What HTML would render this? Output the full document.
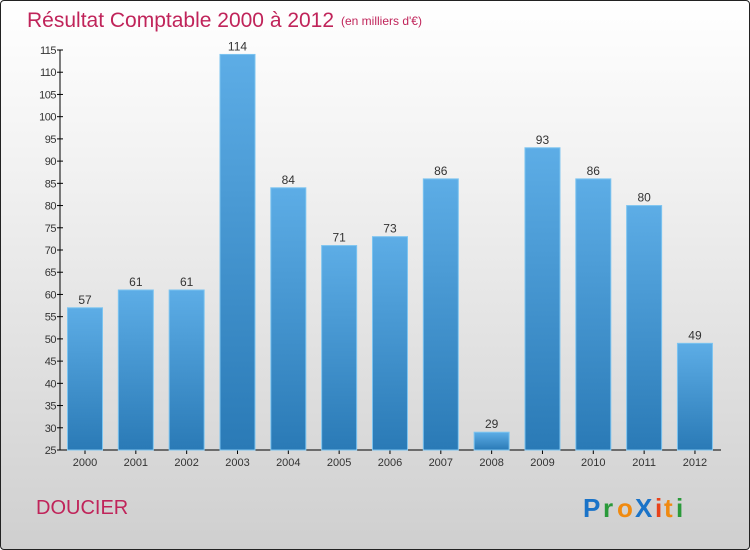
<!DOCTYPE html>
<html><head><meta charset="utf-8"><style>
body{margin:0;width:750px;height:550px;overflow:hidden;font-family:"Liberation Sans",sans-serif}
#frame{position:absolute;left:0;top:0;width:748px;height:548px;border:1px solid #222;border-radius:4px;background:linear-gradient(#ffffff,#f2f2f2 30%,#cfcfcf)}
</style></head><body>
<div id="frame">
<svg width="750" height="550" style="position:absolute;left:-1px;top:-1px">
<defs><linearGradient id="bg" x1="0" y1="0" x2="0" y2="1"><stop offset="0" stop-color="#5dade6"/><stop offset="1" stop-color="#2a7ab6"/></linearGradient></defs>
<text x="27" y="27" font-size="21" fill="#c0245a">Résultat Comptable 2000 à 2012</text>
<text x="341" y="25" font-size="12" fill="#c0245a">(en milliers d'€)</text>
<g id="axes"></g><g id="bars"></g>
<text x="36" y="514" font-size="20" fill="#c0245a">DOUCIER</text>
<g font-size="26" font-weight="bold" font-family="Liberation Sans,sans-serif">
<text x="583" y="517" fill="#1a73c8">P</text><text x="603" y="517" fill="#2a9a3a">r</text><text x="617" y="517" fill="#f08a10">o</text><text x="635" y="517" fill="#1a73c8">X</text><text x="655" y="517" fill="#e8421a">i</text><text x="664" y="517" fill="#f08a10">t</text><text x="676" y="517" fill="#2a9a3a">i</text></g>
</svg></div>
<script>
const categories=["2000","2001","2002","2003","2004","2005","2006","2007","2008","2009","2010","2011","2012"];
const values=[57,61,61,114,84,71,73,86,29,93,86,80,49];
const ticks=[25,30,35,40,45,50,55,60,65,70,75,80,85,90,95,100,105,110,115];
const NS="http://www.w3.org/2000/svg";
const y=v=>450-(v-25)*400/90;
const x=i=>85+i*50.83;
function mk(t,a,p){const e=document.createElementNS(NS,t);for(const k in a)e.setAttribute(k,a[k]);p.appendChild(e);return e;}
const ax=document.getElementById('axes'),bg=document.getElementById('bars');
const yl=mk('line',{x1:60,y1:50,x2:60,y2:450,stroke:'#000'},ax);


const xl=mk('line',{x1:60,y1:450,x2:721,y2:450,stroke:'#000'},ax);


ticks.forEach(t=>{
 mk('line',{x1:57,y1:y(t),x2:63,y2:y(t),stroke:'#000'},ax);
 const tx=mk('text',{x:56,y:y(t)+4,'text-anchor':'end','font-size':11,fill:'#333','letter-spacing':'-0.5'},ax);tx.textContent=t;
 
 
});
categories.forEach((c,i)=>{
 const v=values[i];
 const r=mk('rect',{x:x(i)-17.5,y:y(v),width:35,height:450-y(v),fill:'url(#bg)',stroke:'#7cc4f0','stroke-width':1},bg);
 
 
 const vt=mk('text',{x:x(i),y:y(v)-4,'text-anchor':'middle','font-size':12,fill:'#333'},bg);vt.textContent=v;
 
 
 mk('line',{x1:x(i),y1:450,x2:x(i),y2:454,stroke:'#000'},ax);
 const ct=mk('text',{x:x(i),y:466,'text-anchor':'middle','font-size':11,fill:'#333'},ax);ct.textContent=c;
 
 
});
</script></body></html>
